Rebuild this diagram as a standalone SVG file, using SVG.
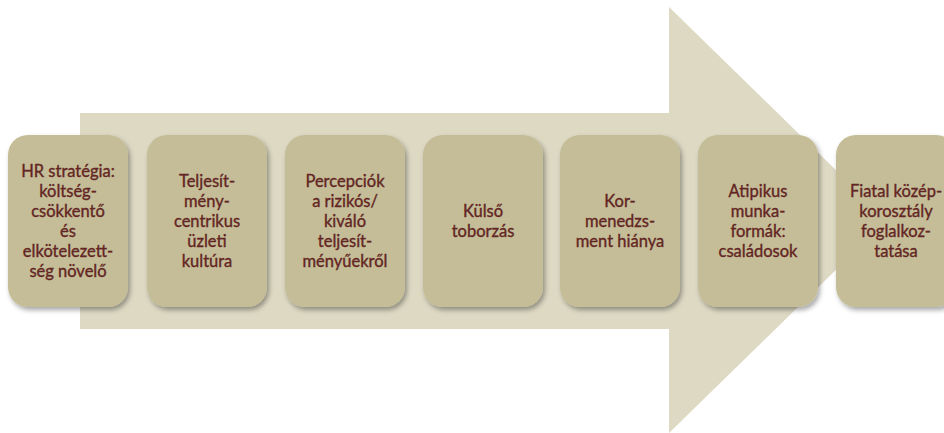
<svg xmlns="http://www.w3.org/2000/svg" width="944" height="433" viewBox="0 0 944 433">
<defs>
<filter id="sh" x="-10%" y="-10%" width="130%" height="130%">
<feDropShadow dx="2" dy="3" stdDeviation="2.5" flood-color="#000" flood-opacity="0.35"/>
</filter>
<style>
.box{fill:#C4BD97;filter:url(#sh)}
.t{font-family:Lato,"Open Sans","Liberation Sans",sans-serif;font-size:16.5px;fill:#632523;stroke:#632523;stroke-width:0.35px;text-anchor:middle}
</style>
</defs>
<rect width="944" height="433" fill="#fff"/>
<g id="arrow">
<polygon points="80,113 669,113 669,7 887,220 669,433 669,329 80,329" fill="#DDD9C3"/>
</g>
<g id="connectors"></g>
<g id="n1">
<rect class="box" x="8" y="135" width="120" height="172" rx="20"/>
<text class="t"><tspan x="68" y="177">HR stratégia:</tspan><tspan x="68" y="197">költség-</tspan><tspan x="68" y="217">csökkentő</tspan><tspan x="68" y="237">és</tspan><tspan x="68" y="257">elkötelezett-</tspan><tspan x="68" y="277">ség növelő</tspan></text>
</g>
<g id="n2">
<rect class="box" x="147" y="135" width="120" height="172" rx="20"/>
<text class="t"><tspan x="207" y="187">Teljesít-</tspan><tspan x="207" y="207">mény-</tspan><tspan x="207" y="227">centrikus</tspan><tspan x="207" y="247">üzleti</tspan><tspan x="207" y="267">kultúra</tspan></text>
</g>
<g id="n3">
<rect class="box" x="285" y="135" width="120" height="172" rx="20"/>
<text class="t"><tspan x="345" y="187">Percepciók</tspan><tspan x="345" y="207">a rizikós/</tspan><tspan x="345" y="227">kiváló</tspan><tspan x="345" y="247">teljesít-</tspan><tspan x="345" y="267">ményűekről</tspan></text>
</g>
<g id="n4">
<rect class="box" x="423" y="135" width="120" height="172" rx="20"/>
<text class="t"><tspan x="483" y="217">Külső</tspan><tspan x="483" y="237">toborzás</tspan></text>
</g>
<g id="n5">
<rect class="box" x="560" y="135" width="120" height="172" rx="20"/>
<text class="t"><tspan x="620" y="207">Kor-</tspan><tspan x="620" y="227">menedzs-</tspan><tspan x="620" y="247">ment hiánya</tspan></text>
</g>
<g id="n6">
<rect class="box" x="698" y="135" width="120" height="172" rx="20"/>
<text class="t"><tspan x="758" y="197">Atipikus</tspan><tspan x="758" y="217">munka-</tspan><tspan x="758" y="237">formák:</tspan><tspan x="758" y="257">családosok</tspan></text>
</g>
<g id="n7">
<rect class="box" x="836" y="135" width="120" height="172" rx="20"/>
<text class="t"><tspan x="896" y="197">Fiatal közép-</tspan><tspan x="896" y="217">korosztály</tspan><tspan x="896" y="237">foglalkoz-</tspan><tspan x="896" y="257">tatása</tspan></text>
</g>
</svg>
